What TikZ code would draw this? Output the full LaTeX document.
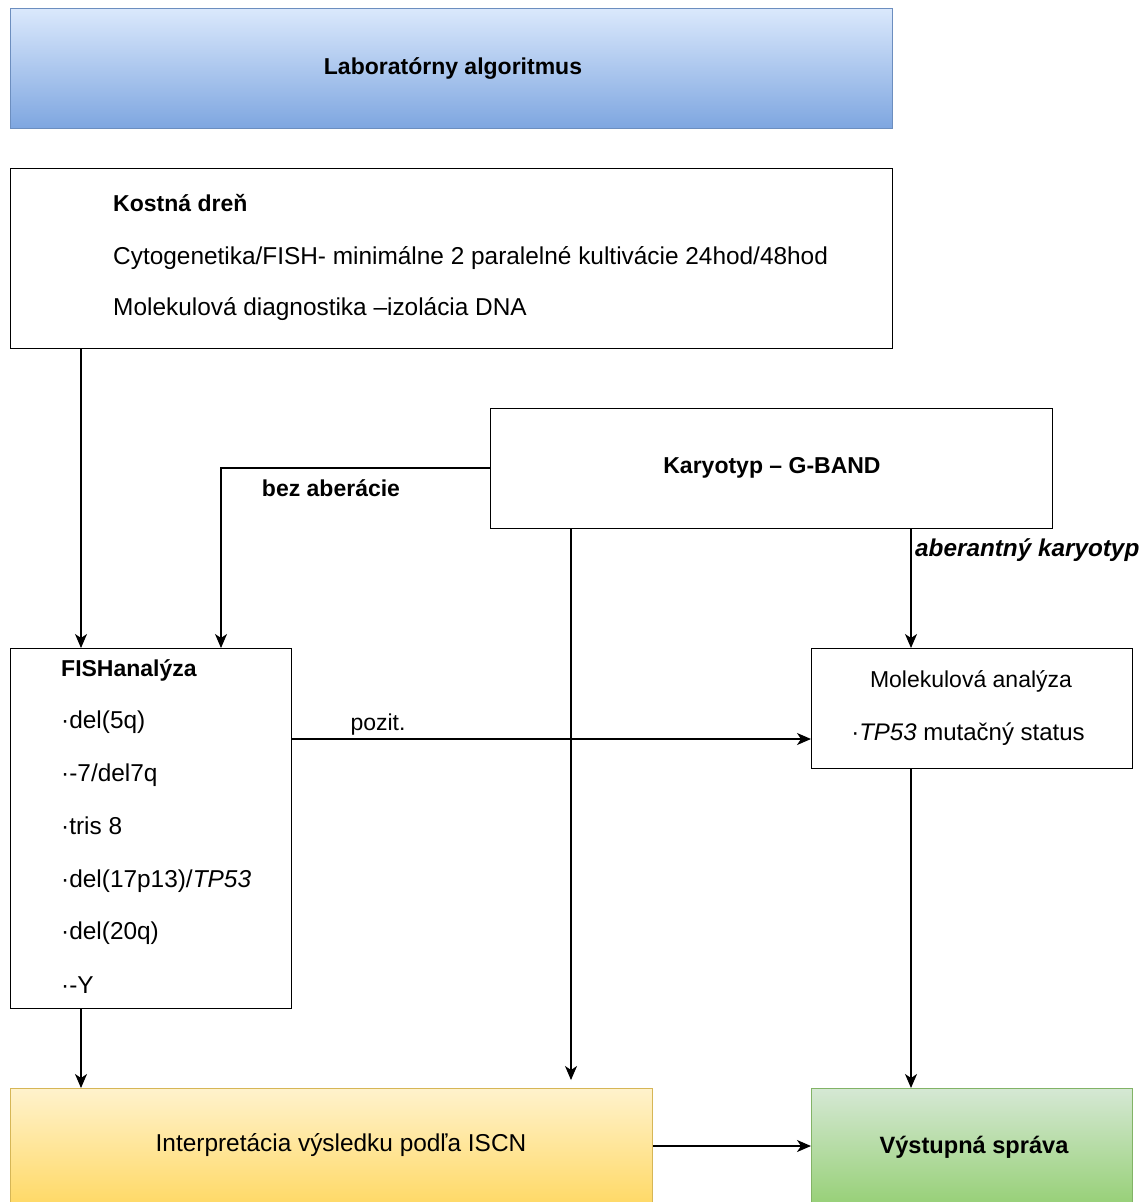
\documentclass[tikz,border=0pt]{standalone}
\usepackage{fontspec}
\setmainfont{Liberation Sans}
\usetikzlibrary{arrows.meta}
\definecolor{blueT}{RGB}{218,232,252}
\definecolor{blueB}{RGB}{126,166,224}
\definecolor{blueD}{RGB}{108,142,191}
\definecolor{yelT}{RGB}{255,242,204}
\definecolor{yelB}{RGB}{255,217,102}
\definecolor{yelD}{RGB}{214,182,86}
\definecolor{grnT}{RGB}{213,232,212}
\definecolor{grnB}{RGB}{151,208,119}
\definecolor{grnD}{RGB}{130,179,102}
\begin{document}
\begin{tikzpicture}[x=1pt,y=-1pt,
  box/.style={draw=black,line width=1.3pt,rectangle,inner sep=0pt,anchor=north west},
  txt/.style={inner sep=0pt,font=\fontsize{23}{27}\selectfont,text height=17pt,text depth=5pt},
  big/.style={font=\fontsize{24.4}{28}\selectfont},
  conn/.style={line width=1.3pt,-{Stealth[length=14pt,width=12pt,inset=4pt]}},
  plain/.style={line width=1.3pt}]
\useasboundingbox (0,0) rectangle (1144,1202);
% boxes
\node[box,draw=blueD,top color=blueT,bottom color=blueB,minimum width=882pt,minimum height=120pt] (lab) at (10,8) {};
\node[txt,font=\fontsize{23}{27}\selectfont\bfseries] (labt) at (453,68) {Laboratórny algoritmus};
\node[box,minimum width=882pt,minimum height=180pt] (kost) at (10,168) {};
\node[txt,anchor=west,font=\fontsize{23}{27}\selectfont\bfseries] (k1) at (113,205) {Kostná dreň};
\node[txt,big,anchor=west] (k2) at (113,258) {Cytogenetika/FISH- minimálne 2 paralelné kultivácie 24hod/48hod};
\node[txt,big,anchor=west] (k3) at (113,309) {Molekulová diagnostika –izolácia DNA};
\node[box,minimum width=562pt,minimum height=120pt] (kar) at (490,408) {};
\node[txt,font=\fontsize{23}{27}\selectfont\bfseries] (kart) at (772,467) {Karyotyp – G-BAND};
\node[box,minimum width=281pt,minimum height=360pt] (fish) at (10,648) {};
\node[txt,anchor=west,font=\fontsize{23}{27}\selectfont\bfseries] (f0) at (61,670) {FISHanalýza};
\node[txt,big,anchor=west] (f1) at (61,722) {·del(5q)};
\node[txt,big,anchor=west] (f2) at (61,775) {·-7/del7q};
\node[txt,big,anchor=west] (f3) at (61,828) {·tris 8};
\node[txt,big,anchor=west] (f4) at (61,881) {·del(17p13)/\textit{TP53}};
\node[txt,big,anchor=west] (f5) at (61,933) {·del(20q)};
\node[txt,big,anchor=west] (f6) at (61,987) {·-Y};
\node[box,minimum width=321pt,minimum height=120pt] (mol) at (811,648) {};
\node[txt] (m1) at (971,681) {Molekulová analýza};
\node[txt,font=\fontsize{24}{28}\selectfont] (m2) at (968,734) {·\textit{TP53} mutačný status};
\node[box,draw=yelD,top color=yelT,bottom color=yelB,minimum width=642pt,minimum height=116pt] (interp) at (10,1088) {};
\node[txt,big] (it) at (341,1145) {Interpretácia výsledku podľa ISCN};
\node[box,draw=grnD,top color=grnT,bottom color=grnB,minimum width=321pt,minimum height=116pt] (vys) at (811,1088) {};
\node[txt,font=\fontsize{23.6}{27}\selectfont\bfseries] (vt) at (974,1147) {Výstupná správa};
% x positions
\coordinate (xa) at (81,0);
\coordinate (xb) at (221,0);
\coordinate (xc) at (571,0);
\coordinate (xd) at (911,0);
\coordinate (ya) at (0,739);
\coordinate (yb) at (0,1146);
\coordinate (yk) at (0,468);
% connectors
\draw[conn] (kost.south -| xa) -- (fish.north -| xa);
\draw[conn] (kar.west |- yk) -| (fish.north -| xb);
\draw[conn] (kar.south -| xc) -- ([yshift=8pt]interp.north -| xc);
\draw[conn] (kar.south -| xd) -- (mol.north -| xd);
\draw[conn] (fish.east |- ya) -- (mol.west |- ya);
\draw[conn] (fish.south -| xa) -- (interp.north -| xa);
\draw[conn] (mol.south -| xd) -- (vys.north -| xd);
\draw[conn] (interp.east |- yb) -- (vys.west |- yb);
% labels
\node[txt,font=\fontsize{23}{27}\selectfont\bfseries] (lb1) at (331,490) {bez aberácie};
\node[txt,anchor=west,font=\fontsize{24.3}{28}\selectfont\bfseries\itshape] (lb2) at (915,550) {aberantný karyotyp};
\node[txt] (lb3) at (378,724) {pozit.};
\end{tikzpicture}
\end{document}
